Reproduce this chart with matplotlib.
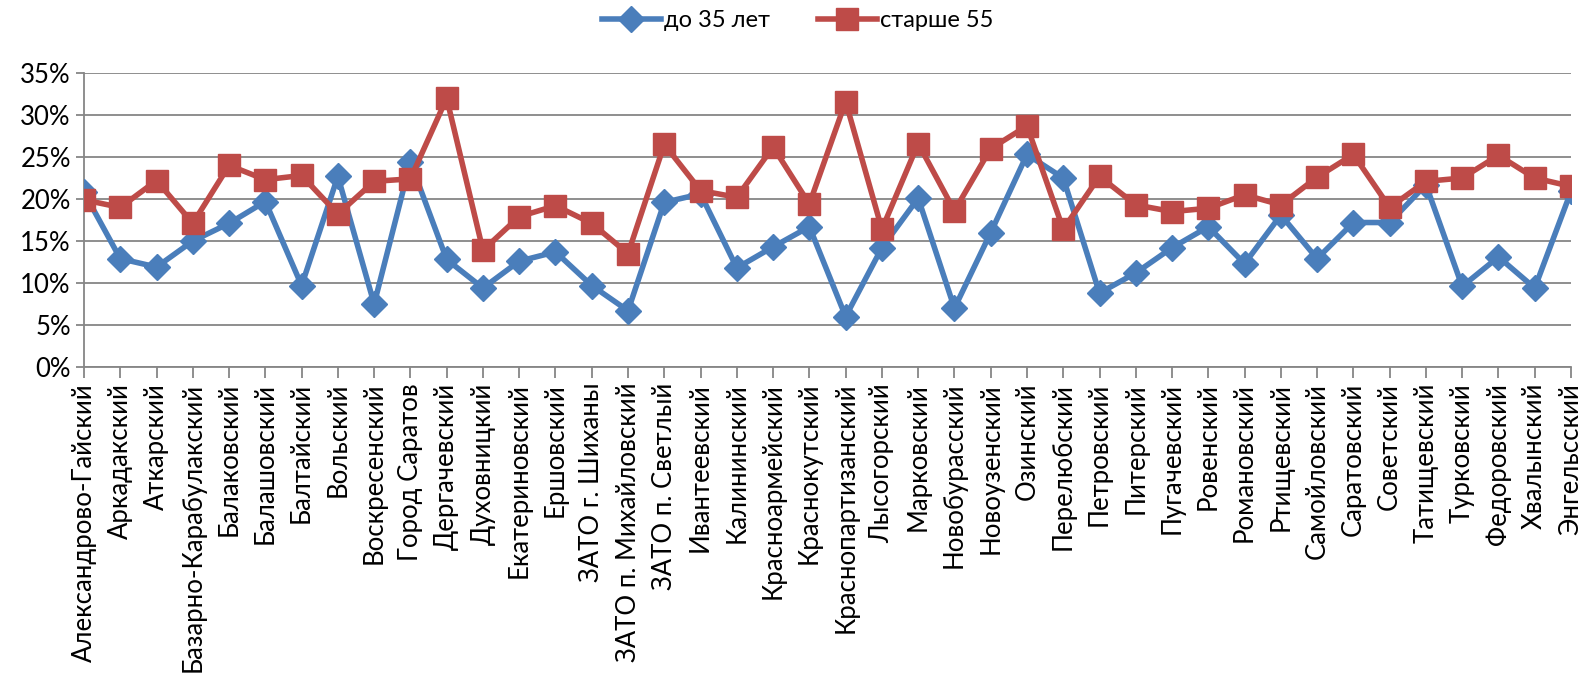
import numpy as np
import matplotlib.pyplot as plt
from matplotlib.ticker import PercentFormatter

# Районы области
districts = [
    "Александрово-Гайский", "Аркадакский", "Аткарский", "Базарно-Карабулакский",
    "Балаковский", "Балашовский", "Балтайский", "Вольский", "Воскресенский",
    "Город Саратов", "Дергачевский", "Духовницкий", "Екатериновский", "Ершовский",
    "ЗАТО г. Шиханы", "ЗАТО п. Михайловский", "ЗАТО п. Светлый", "Ивантеевский",
    "Калининский", "Красноармейский", "Краснокутский", "Краснопартизанский",
    "Лысогорский", "Марковский", "Новобурасский", "Новоузенский", "Озинский",
    "Перелюбский", "Петровский", "Питерский", "Пугачевский", "Ровенский",
    "Романовский", "Ртищевский", "Самойловский", "Саратовский", "Советский",
    "Татищевский", "Турковский", "Федоровский", "Хвалынский", "Энгельсский",
]

# доля, %
young = [20.8, 12.9, 11.9, 15.0, 17.1, 19.7, 9.7, 22.7, 7.5, 24.4,
         12.8, 9.4, 12.6, 13.7, 9.7, 6.7, 19.6, 20.6, 11.8, 14.3,
         16.7, 6.0, 14.2, 20.1, 7.0, 16.0, 25.3, 22.5, 8.8, 11.2,
         14.2, 16.7, 12.3, 18.1, 12.9, 17.2, 17.2, 21.7, 9.6, 13.1,
         9.4, 20.9]
old = [19.9, 19.0, 22.2, 17.1, 24.0, 22.3, 22.8, 18.2, 22.1, 22.4,
       32.0, 13.9, 17.9, 19.2, 17.1, 13.5, 26.5, 21.0, 20.2, 26.2,
       19.4, 31.6, 16.4, 26.6, 18.6, 26.0, 28.7, 16.4, 22.7, 19.3,
       18.5, 18.9, 20.5, 19.3, 22.6, 25.3, 19.0, 22.1, 22.5, 25.2,
       22.5, 21.5]

plt.rcParams['font.family'] = ['Lato', 'DejaVu Sans']

fig = plt.figure(figsize=(15.87, 6.75), dpi=100)
ax = fig.add_axes([84 / 1587, 1 - 367 / 675, (1571 - 84) / 1587, (367 - 73) / 675])

x = np.arange(len(districts))
ax.plot(x, young, color='#4A7EBB', lw=4, marker='D', ms=13, label='до 35 лет', zorder=3)
ax.plot(x, old, color='#BE4B48', lw=4, marker='s', ms=16, label='старше 55', zorder=3)

ax.set_xlim(0, len(districts) - 1)
ax.set_ylim(0, 35)
ax.set_yticks(np.arange(0, 36, 5))
ax.yaxis.set_major_formatter(PercentFormatter(decimals=0))
ax.set_xticks(x)
ax.set_xticklabels(districts, rotation=90, fontsize=18.5)
ax.tick_params(axis='y', labelsize=18.5, length=6, color='#868686', width=1.3)
ax.tick_params(axis='x', length=8, color='#868686', width=1.3)

ax.grid(axis='y', color='#868686', lw=1.3)
ax.set_axisbelow(True)
for side in ['top', 'right']:
    ax.spines[side].set_visible(False)
for side in ['left', 'bottom']:
    ax.spines[side].set_color('#868686')
    ax.spines[side].set_linewidth(1.3)

ax.legend(loc='upper center', bbox_to_anchor=(0.48, 1.285), ncol=2, frameon=False,
          fontsize=17, handlelength=2.5, columnspacing=2.0, handletextpad=0.15)

fig.savefig('out.png', dpi=100)
